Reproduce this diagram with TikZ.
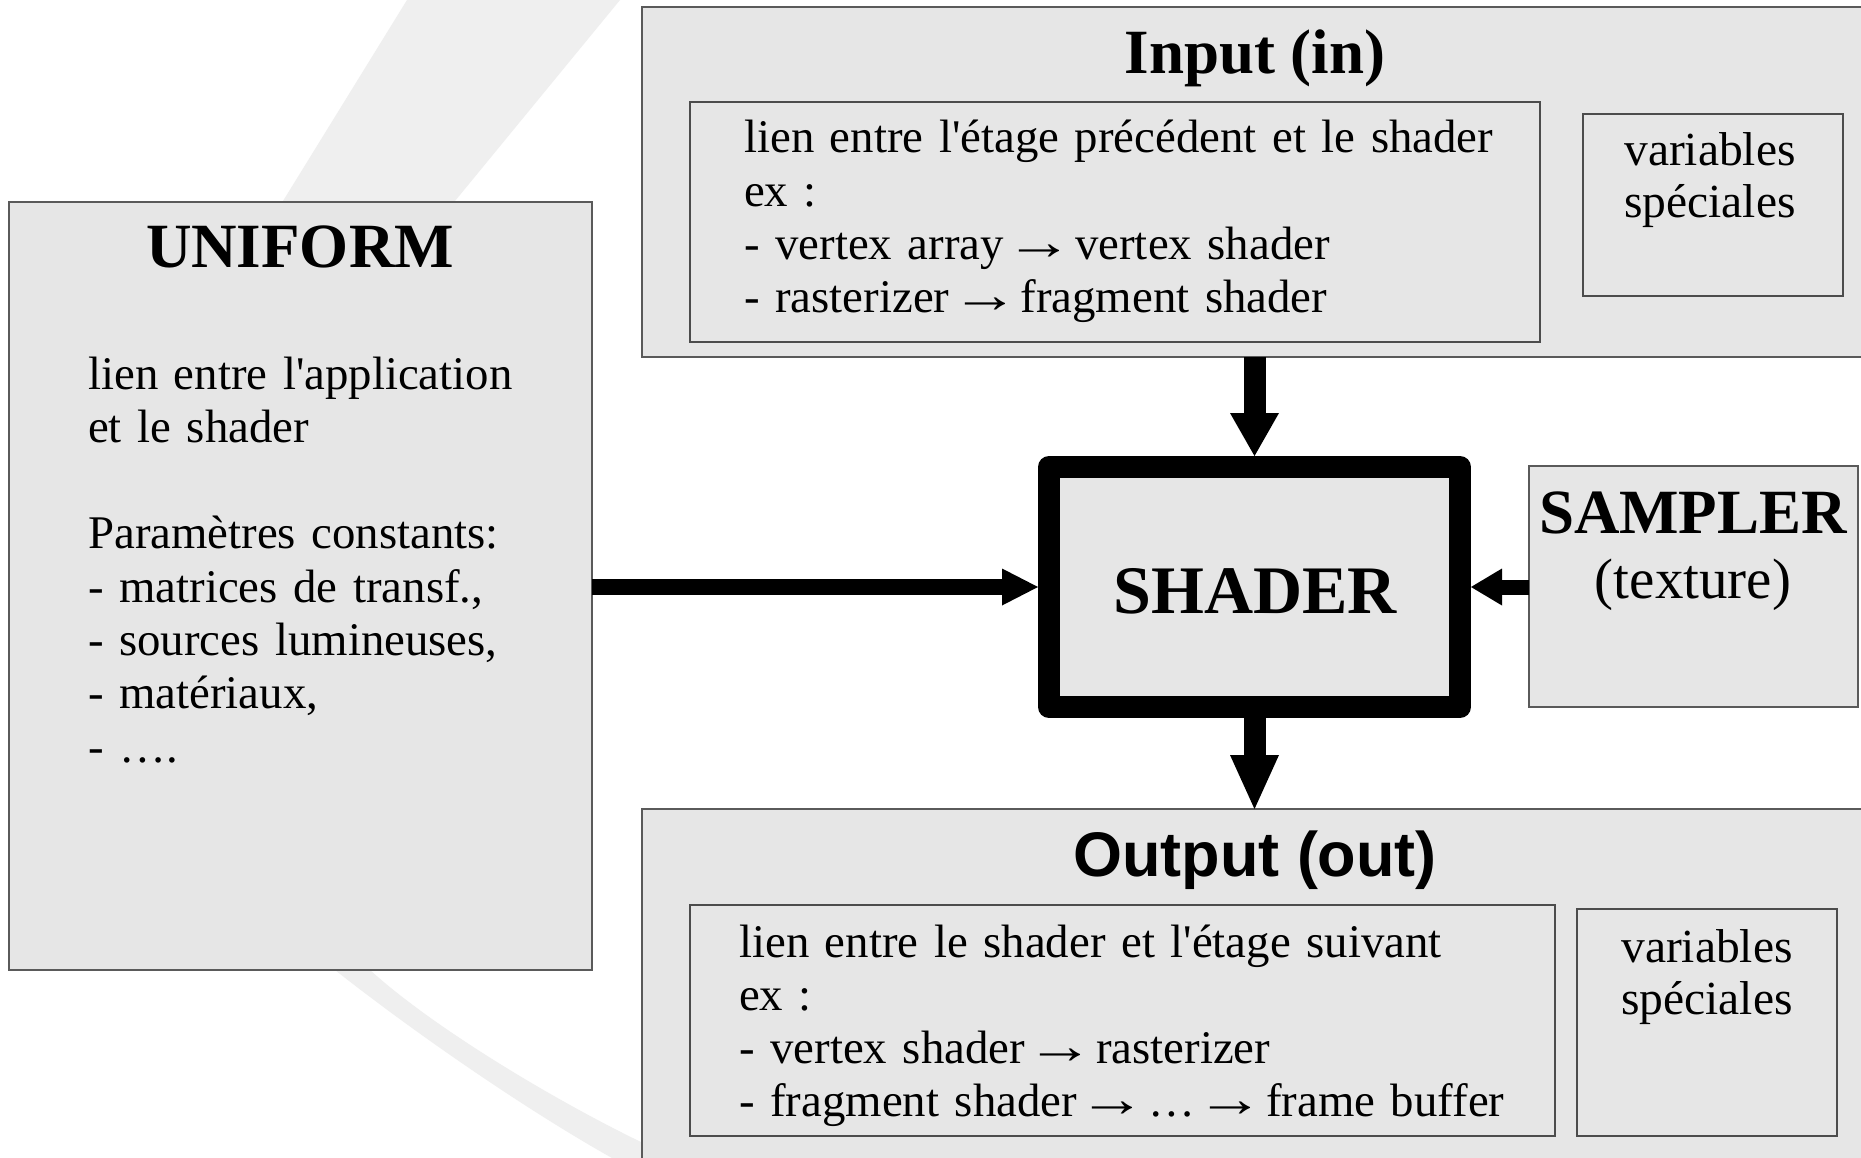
\documentclass[tikz,border=0pt]{standalone}
\usepackage{graphicx}
\usepackage{fontspec}
\setmainfont{Liberation Serif}[Ligatures=TeXOff]
\newfontfamily\titlesans{Liberation Sans}
\usetikzlibrary{arrows.meta}
\definecolor{boxfill}{HTML}{E6E6E6}
\definecolor{bandgray}{HTML}{EFEFEF}
\definecolor{edgegray}{HTML}{5A5A5A}
\newcommand\myarr{\makebox[40pt][c]{\scalebox{1.45}[1.1]{→}}}
\begin{document}
\begin{tikzpicture}[x=1pt,y=-1pt,
  box/.style={draw=edgegray, line width=2pt, fill=boxfill, inner sep=0pt, outer sep=0pt, anchor=north west},
  inbox/.style={draw=edgegray!85!black, line width=1.8pt, fill=boxfill, inner sep=0pt, outer sep=0pt, anchor=north west},
  titletext/.style={font=\fontsize{63}{70}\selectfont\bfseries, inner sep=0pt, anchor=base},
  bodytext/.style={font=\fontsize{46.8}{53.3}\selectfont, inner sep=0pt, align=left, anchor=base west},
  centertext/.style={font=\fontsize{47.5}{52}\selectfont, inner sep=0pt, align=center, anchor=base, text width=250pt},
  bigarrow/.style={line width=22pt, -{Triangle[width=49pt,length=#1,line width=0pt]}},
]
\useasboundingbox (0,0) rectangle (1861,1158);
\clip (0,0) rectangle (1861,1158);
\fill[white] (0,0) rectangle (1861,1158);
% background swoosh
\fill[bandgray] (419,-20) -- (407,0) -- (283,201)
  .. controls (128,451) and (83,770) .. (335,970)
  .. controls (411,1030) and (523,1108) .. (612,1158)
  -- (660,1190) -- (720,1190) -- (643,1143)
  .. controls (560,1103) and (436,1030) .. (370,970)
  .. controls (150,770) and (250,451) .. (455,201)
  -- (620,0) -- (636,-20) -- cycle;

% boxes
\node[box, minimum width=583pt, minimum height=768pt] (uniform) at (9,202) {};
\node[box, minimum width=1228pt, minimum height=350pt] (input) at (642,7) {};
\node[inbox, minimum width=850pt, minimum height=240pt] (inputinner) at (690,102) {};
\node[inbox, minimum width=260pt, minimum height=182pt] (inputvars) at (1583,114) {};
\node[box, minimum width=329pt, minimum height=241pt] (sampler) at (1529,466) {};
\node[box, minimum width=1228pt, minimum height=361pt] (output) at (642,809) {};
\node[inbox, minimum width=865pt, minimum height=231pt] (outputinner) at (690,905) {};
\node[inbox, minimum width=260pt, minimum height=227pt] (outputvars) at (1577,909) {};
\node[draw=black, line width=22pt, line join=round, fill=boxfill, inner sep=0pt,
      minimum width=411pt, minimum height=240pt] (shader) at (1254.5,587) {};

% arrows
\draw[bigarrow=43pt] (shader.north |- input.south) -- (shader.north);
\draw[bigarrow=54pt] (shader.south) -- (shader.south |- output.north);
\draw[line width=16pt, -{Triangle[width=37pt,length=36pt,line width=0pt]}] (uniform.east |- shader.west) -- (shader.west);
\draw[line width=15pt, -{Triangle[width=37pt,length=31pt,line width=0pt]}] (sampler.west |- shader.east) -- (shader.east);

% texts
\node[titletext] (uniformtitle) at (300,268) {UNIFORM};
\node[bodytext, text width=500pt] (uniformtext) at (88,389)
  {lien entre l'application\\ et le shader\\[53.3pt] Paramètres constants:\\ - matrices de transf.,\\ - sources lumineuses,\\ - matériaux,\\ - ….};
\node[titletext] (inputtitle) at (1255,74) {Input (in)};
\node[bodytext, text width=790pt] (inputtext) at (744,153)
  {lien entre l'étage précédent et le shader\\ ex :\\ - vertex array \myarr{} vertex shader\\ - rasterizer \myarr{} fragment shader};
\node[centertext] (inputvarstext) at (1710,166) {variables\\ spéciales};
\node[titletext, font=\fontsize{68}{72}\selectfont\bfseries] (shadertext) at (1255,613) {SHADER};
\node[titletext] (samplertitle) at (1693,533) {SAMPLER};
\node[inner sep=0pt, anchor=base, font=\fontsize{57}{62}\selectfont] (samplersub) at (1693,598) {(texture)};
\node[inner sep=0pt, anchor=base, font=\titlesans\fontsize{63}{70}\selectfont\bfseries] (outputtitle) at (1255,876) {Output (out)};
\node[bodytext, text width=830pt] (outputtext) at (739,957)
  {lien entre le shader et l'étage suivant\\ ex :\\ - vertex shader \myarr{} rasterizer\\ - fragment shader \myarr{} … \myarr{} frame buffer};
\node[centertext] (outputvarstext) at (1707,962) {variables\\ spéciales};
\end{tikzpicture}
\end{document}
